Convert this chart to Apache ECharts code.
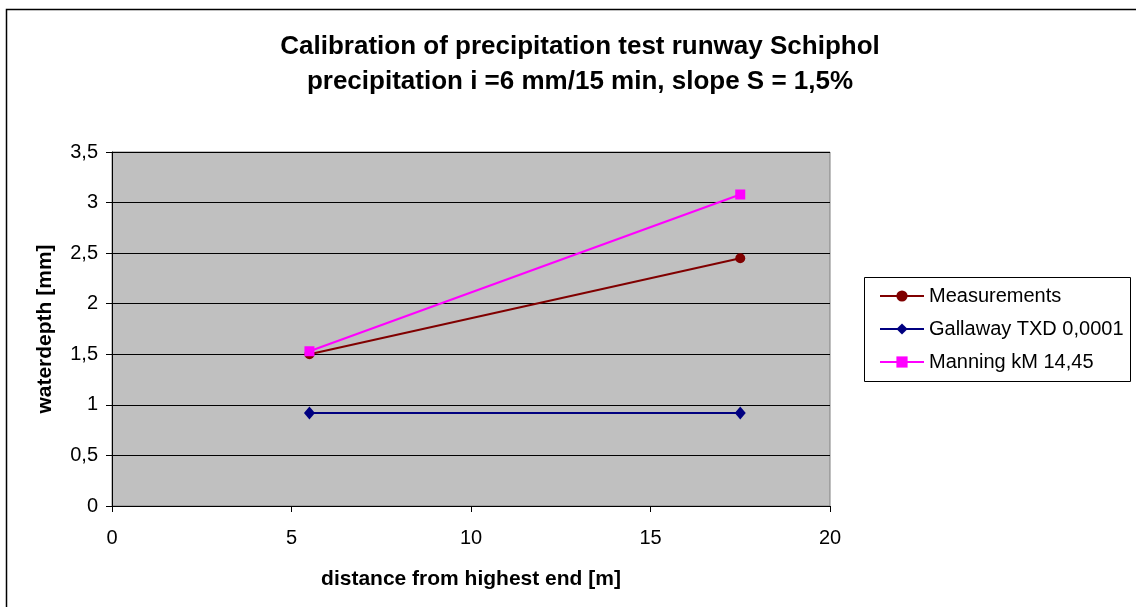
<!DOCTYPE html>
<html>
<head>
<meta charset="utf-8">
<script src="https://cdn.jsdelivr.net/npm/echarts@6/dist/echarts.min.js"></script>
<style>
  html, body { margin: 0; padding: 0; background: #fff; }
  #chart { width: 1136px; height: 607px; }
</style>
</head>
<body>
<div id="chart"></div>
<script>
// Distance from the highest end of the runway [m]
const distances = [5.5, 17.5];
// Water depth [mm] per series
const measurements = [1.5, 2.45];
const gallaway = [0.92, 0.92];
const manning = [1.53, 3.08];

const seriesNames = ['Measurements', 'Gallaway TXD 0,0001', 'Manning kM 14,45'];

const fmtComma = v => String(v).replace('.', ',');
const pairs = ys => distances.map((x, i) => [x, ys[i]]);

const chart = echarts.init(document.getElementById('chart'), null, { renderer: 'canvas' });
const font = 'Arial, "Liberation Sans", sans-serif';

chart.setOption({
  backgroundColor: '#ffffff',
  animation: false,
  title: {
    text: 'Calibration of precipitation test runway Schiphol\nprecipitation i =6 mm/15 min, slope S = 1,5%',
    left: 575,
    top: 24,
    textAlign: 'center',
    textStyle: { fontFamily: font, fontSize: 26, fontWeight: 'bold', color: '#000', lineHeight: 35 }
  },
  graphic: [
    // outer chart frame (left and top edges visible)
    { type: 'rect', shape: { x: 6.5, y: 9.5, width: 1140, height: 610 },
      style: { fill: 'none', stroke: '#000', lineWidth: 1.5 }, z: 0 },
    // legend box
    { type: 'rect', shape: { x: 864.5, y: 277.5, width: 266, height: 104 },
      style: { fill: '#fff', stroke: '#000', lineWidth: 1 }, z: 1 }
  ],
  legend: {
    left: 874,
    top: 280,
    orient: 'vertical',
    itemGap: 11,
    itemWidth: 44,
    itemHeight: 14,
    z: 5,
    textStyle: { fontFamily: font, fontSize: 20, color: '#000', lineHeight: 22 },
    data: seriesNames
  },
  grid: { left: 112, top: 152, width: 718, height: 354, show: true,
          backgroundColor: '#c0c0c0', borderColor: '#808080', borderWidth: 1 },
  xAxis: {
    type: 'value', min: 0, max: 20, interval: 5,
    name: 'distance from highest end [m]',
    nameLocation: 'middle', nameGap: 63,
    nameTextStyle: { fontFamily: font, fontSize: 21, fontWeight: 'bold', color: '#000' },
    axisLine: { show: true, onZero: false, lineStyle: { color: '#000', width: 1 } },
    axisTick: { show: true, length: 6, lineStyle: { color: '#000' } },
    axisLabel: { fontFamily: font, fontSize: 20, color: '#000', margin: 22 },
    splitLine: { show: false }
  },
  yAxis: {
    type: 'value', min: 0, max: 3.5, interval: 0.5,
    name: 'waterdepth [mm]',
    nameLocation: 'middle', nameGap: 56,
    nameTextStyle: { fontFamily: font, fontSize: 21, fontWeight: 'bold', color: '#000' },
    axisLine: { show: true, lineStyle: { color: '#000', width: 1 } },
    axisTick: { show: true, length: 6, lineStyle: { color: '#000' } },
    axisLabel: { fontFamily: font, fontSize: 20, color: '#000', margin: 14,
                 formatter: v => fmtComma(v) },
    splitLine: { show: true, lineStyle: { color: '#000', width: 1 } }
  },
  series: [
    {
      name: seriesNames[0], type: 'line', data: pairs(measurements),
      symbol: 'circle', symbolSize: 10,
      lineStyle: { color: '#800000', width: 2 },
      itemStyle: { color: '#800000' }, z: 3
    },
    {
      name: seriesNames[1], type: 'line', data: pairs(gallaway),
      symbol: 'diamond', symbolSize: [11, 13],
      lineStyle: { color: '#000080', width: 2 },
      itemStyle: { color: '#000080' }, z: 3
    },
    {
      name: seriesNames[2], type: 'line', data: pairs(manning),
      symbol: 'rect', symbolSize: 10,
      lineStyle: { color: '#ff00ff', width: 2 },
      itemStyle: { color: '#ff00ff' }, z: 4
    }
  ]
});
</script>
</body>
</html>
